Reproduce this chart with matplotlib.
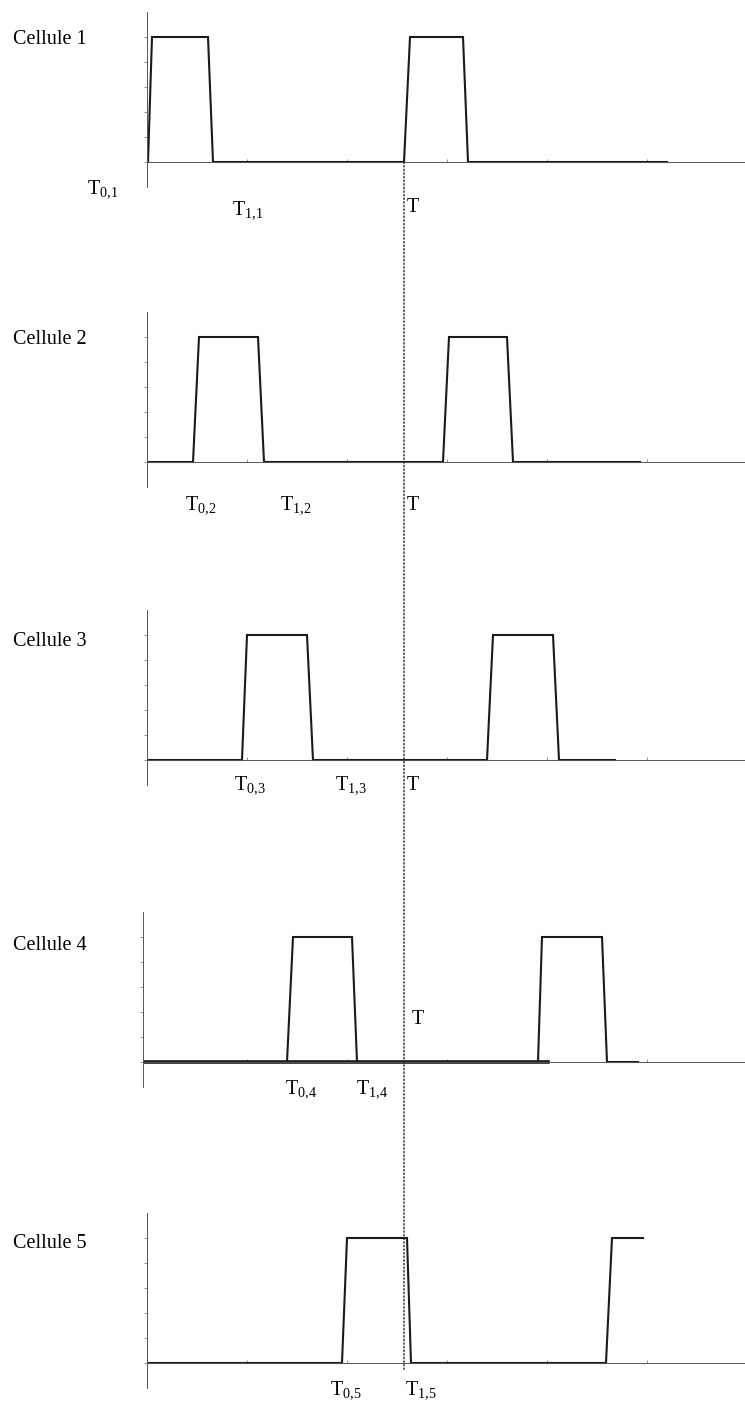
import matplotlib
matplotlib.use("Agg")
import matplotlib.pyplot as plt
from matplotlib.patches import ConnectionPatch

plt.rcParams['font.family'] = 'Liberation Serif'
plt.rcParams['mathtext.fontset'] = 'custom'
plt.rcParams['mathtext.rm'] = 'Liberation Serif'

# cell names
cells = ['Cellule 1', 'Cellule 2', 'Cellule 3', 'Cellule 4', 'Cellule 5']

# pulse edges per cell: (rise start, rise end, fall start, fall end)
cell1_pulses = [(0.01, 0.05, 0.61, 0.66), (2.57, 2.63, 3.16, 3.21)]
cell2_pulses = [(0.46, 0.52, 1.11, 1.17), (2.96, 3.02, 3.60, 3.66)]
cell3_pulses = [(0.95, 1.00, 1.60, 1.66), (3.40, 3.46, 4.06, 4.12)]
cell4_pulses = [(1.40, 1.46, 2.05, 2.10), (3.91, 3.95, 4.55, 4.60)]
cell5_pulses = [(1.95, 2.00, 2.60, 2.64), (4.59, 4.65, None, None)]
pulses = [cell1_pulses, cell2_pulses, cell3_pulses, cell4_pulses, cell5_pulses]

# where each trace starts and stops
signal_start = [0.01, 0.0, 0.0, -0.06, 0.0]
signal_end = [5.20, 4.93, 4.68, 4.91, 4.96]
high = 5.0
period_T = 2.57

# time markers under each trace
marker_labels = [
    [r'T$_{\mathrm{0{,}1}}$', r'T$_{\mathrm{1{,}1}}$', 'T'],
    [r'T$_{\mathrm{0{,}2}}$', r'T$_{\mathrm{1{,}2}}$', 'T'],
    [r'T$_{\mathrm{0{,}3}}$', r'T$_{\mathrm{1{,}3}}$', 'T'],
    [r'T$_{\mathrm{0{,}4}}$', r'T$_{\mathrm{1{,}4}}$', 'T'],
    [r'T$_{\mathrm{0{,}5}}$', r'T$_{\mathrm{1{,}5}}$'],
]

# layout (pixels)
W, H = 745, 1405
panel_top = [12, 312, 610, 912, 1213]
panel_left = [147, 147, 147, 143, 147]
panel_h = 175
label_y = [40, 340, 641, 946, 1243]
marker_pos = [
    [(-0.60, -1.28), (0.85, -2.12), (2.60, -2.0)],
    [(0.38, -1.92), (1.33, -1.92), (2.60, -1.92)],
    [(0.87, -1.20), (1.88, -1.20), (2.60, -1.20)],
    [(1.38, -1.28), (2.09, -1.28), (2.65, 1.52)],
    [(1.83, -1.28), (2.58, -1.28)],
]

fig = plt.figure(figsize=(W / 100, H / 100), dpi=100)
axes = []
for i in range(5):
    left = panel_left[i]
    x0 = (left - 147) / 100
    ax = fig.add_axes([left / W, 1 - (panel_top[i] + panel_h) / H,
                       (W - left) / W, panel_h / H])
    ax.set_xlim(x0, x0 + (W - left) / 100)
    ax.set_ylim(-1, 6)

    xs, ys = [signal_start[i]], [0]
    for r0, r1, f0, f1 in pulses[i]:
        xs += [r0, r1]
        ys += [0, high]
        if f0 is None:
            xs.append(signal_end[i])
            ys.append(high)
        else:
            xs += [f0, f1]
            ys += [high, 0]
    if pulses[i][-1][2] is not None:
        xs.append(signal_end[i])
        ys.append(0)
    ax.plot(xs, ys, color='#1a1a1a', lw=1.5, solid_joinstyle='miter')
    if i == 3:
        ax.plot([signal_start[i], 4.01], [0, 0], color='#1a1a1a', lw=2.6)

    for s in ['top', 'right']:
        ax.spines[s].set_visible(False)
    ax.spines['bottom'].set_position(('data', 0))
    ax.spines['left'].set_position(('data', x0))
    for s in ['bottom', 'left']:
        ax.spines[s].set_color('#555555')
        ax.spines[s].set_linewidth(0.7)
    ax.set_xticks(range(1, 6))
    ax.set_yticks(range(0, 6))
    ax.tick_params(length=2, width=0.5, color='#666666', labelleft=False,
                   labelbottom=False)
    ax.tick_params(axis='x', direction='in')

    fig.text(13 / W, 1 - label_y[i] / H, cells[i], fontsize=14.5,
             va='center', ha='left')
    for txt, (tx, ty) in zip(marker_labels[i], marker_pos[i]):
        ax.text(tx, ty, txt, fontsize=14.5, ha='left', va='baseline',
                clip_on=False)
    axes.append(ax)

# dotted line marking the period T across all cells
con = ConnectionPatch(xyA=(period_T, 0), coordsA=axes[0].transData,
                      xyB=(period_T, -0.25), coordsB=axes[4].transData,
                      color='#222222', lw=1.0, linestyle=(0, (1, 1.6)))
fig.add_artist(con)

fig.savefig('out.png', dpi=100)
